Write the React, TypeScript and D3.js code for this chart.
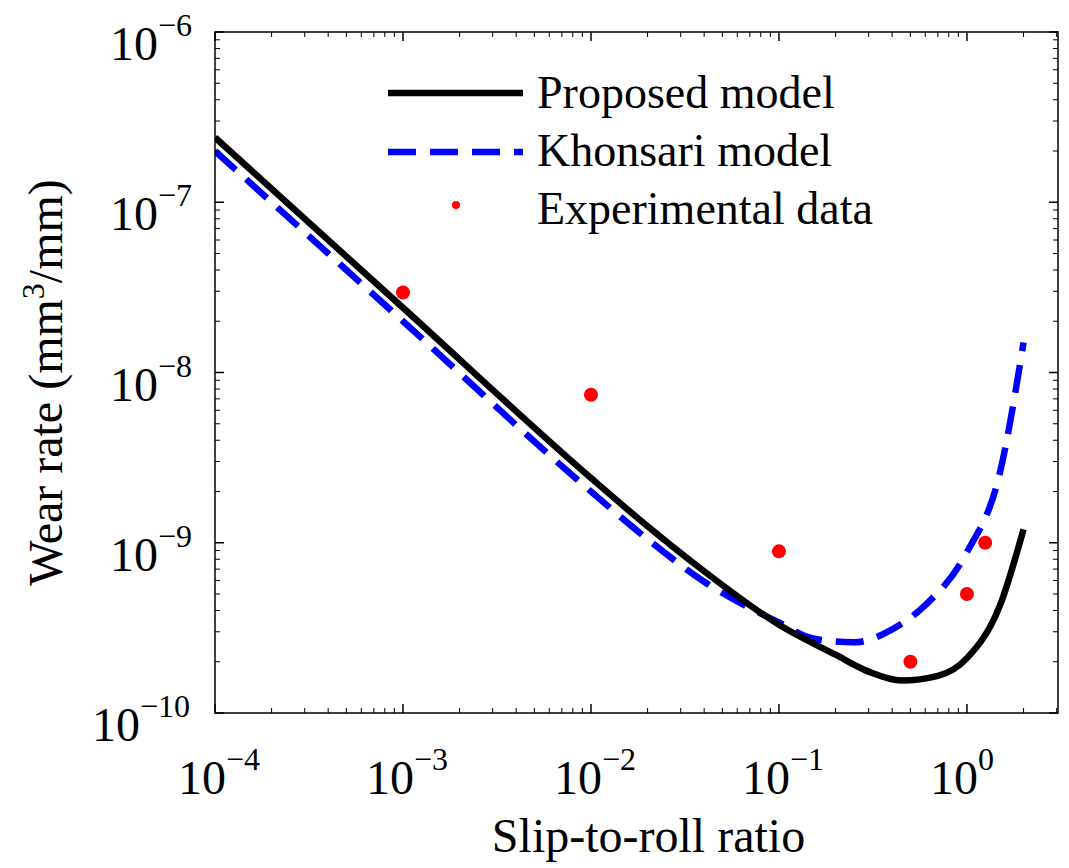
import React from "react";
import * as d3 from "d3";

const propX = [1e-4, 1e-3, 1e-2, 2e-2, 4e-2, 0.1, 0.2, 0.3, 0.45, 0.7, 1.0, 1.5, 2.0];
const propY = [2.4e-7, 2.4e-8, 2.4e-9, 1.25e-9, 6.8e-10, 3.3e-10, 2.2e-10, 1.75e-10, 1.55e-10, 1.65e-10, 2.1e-10, 4.3e-10, 1.2e-9];
const khonX = [1e-4, 1e-3, 1e-2, 2e-2, 4e-2, 0.1, 0.15, 0.25, 0.4, 0.6, 1.0, 1.5, 2.0];
const khonY = [2.0e-7, 2.0e-8, 2.0e-9, 1.05e-9, 5.9e-10, 3.4e-10, 2.75e-10, 2.6e-10, 3.1e-10, 4.3e-10, 8.8e-10, 2.6e-9, 1.5e-8];
const expX = [1e-3, 1e-2, 0.1, 0.5, 1.0, 1.25];
const expY = [2.95e-8, 7.4e-9, 8.9e-10, 2.0e-10, 5.0e-10, 1.0e-9];
const xTickExp = [-4, -3, -2, -1, 0];
const yTickExp = [-10, -9, -8, -7, -6];
const legendLabels = ["Proposed model", "Khonsari model", "Experimental data"];

const L = 215, R = 1058, T = 32, B = 713;
const font = "Liberation Serif, Times New Roman, serif";

export default function App() {
  const x = d3.scaleLog().domain([1e-4, 3.05]).range([L, R]);
  const y = d3.scaleLog().domain([1e-10, 1e-6]).range([B, T]);
  const line = d3.line<[number, number]>().x(d => x(d[0])).y(d => y(d[1])).curve(d3.curveMonotoneX);
  const pData = propX.map((v, i) => [v, propY[i]] as [number, number]);
  const kData = khonX.map((v, i) => [v, khonY[i]] as [number, number]);
  const minorX: number[] = [];
  for (let e = -4; e <= 0; e++) for (let m = 2; m <= 9; m++) { const v = m * Math.pow(10, e); if (v <= 3.05) minorX.push(v); }
  const minorY: number[] = [];
  for (let e = -10; e < -6; e++) for (let m = 2; m <= 9; m++) minorY.push(m * Math.pow(10, e));
  return (
    <svg width={1069} height={868} style={{ position: "absolute", left: 0, top: 0, background: "#fff" }} fontFamily={font}>
      <defs><clipPath id="c"><rect x={L} y={T} width={R - L} height={B - T} /></clipPath></defs>
      <g clipPath="url(#c)">
        <path d={line(kData) || ""} fill="none" stroke="#0000ff" strokeWidth={6.5} strokeDasharray="28,14" />
        <path d={line(pData) || ""} fill="none" stroke="#000" strokeWidth={6.5} />
      </g>
      {expX.map((v, i) => <circle key={i} cx={x(v)} cy={y(expY[i])} r={7} fill="#ff0000" />)}
      <rect x={L} y={T} width={R - L} height={B - T} fill="none" stroke="#000" strokeWidth={1.5} />
      {xTickExp.map(e => { const px = x(Math.pow(10, e)); return (
        <g key={e}>
          <line x1={px} x2={px} y1={B} y2={B - 9} stroke="#000" strokeWidth={1.5} />
          <line x1={px} x2={px} y1={T} y2={T + 9} stroke="#000" strokeWidth={1.5} />
          <text x={px - 37} y={794} fontSize={48}>10<tspan dy={-24} fontSize={32}>{e === 0 ? "0" : "\u2212" + (-e)}</tspan></text>
        </g>); })}
      {minorX.map((v, i) => (<g key={i}>
        <line x1={x(v)} x2={x(v)} y1={B} y2={B - 5} stroke="#000" />
        <line x1={x(v)} x2={x(v)} y1={T} y2={T + 5} stroke="#000" />
      </g>))}
      {yTickExp.map(e => { const py = y(Math.pow(10, e)); return (
        <g key={e}>
          <line x1={L} x2={L + 9} y1={py} y2={py} stroke="#000" strokeWidth={1.5} />
          <line x1={R} x2={R - 9} y1={py} y2={py} stroke="#000" strokeWidth={1.5} />
          <text x={e === -10 ? 92 : 110} y={py + 28} fontSize={48}>10<tspan dy={-24} fontSize={32}>{"\u2212" + (-e)}</tspan></text>
        </g>); })}
      {minorY.map((v, i) => (<g key={i}>
        <line x1={L} x2={L + 5} y1={y(v)} y2={y(v)} stroke="#000" />
        <line x1={R} x2={R - 5} y1={y(v)} y2={y(v)} stroke="#000" />
      </g>))}
      <text x={(L + R) / 2 + 12} y={852} textAnchor="middle" fontSize={48}>Slip-to-roll ratio</text>
      <text transform={`translate(62,${(T + B) / 2 + 10}) rotate(-90)`} textAnchor="middle" fontSize={48}>Wear rate (mm<tspan dy={-18} fontSize={32}>3</tspan><tspan dy={18}>/mm)</tspan></text>
      <line x1={388} x2={523} y1={93} y2={93} stroke="#000" strokeWidth={6.5} />
      <line x1={388} x2={523} y1={152} y2={152} stroke="#0000ff" strokeWidth={6.5} strokeDasharray="28,14" />
      <circle cx={456} cy={205} r={4} fill="#ff0000" />
      {legendLabels.map((s, i) => <text key={i} x={537} y={108 + i * 58} fontSize={46}>{s}</text>)}
    </svg>
  );
}
